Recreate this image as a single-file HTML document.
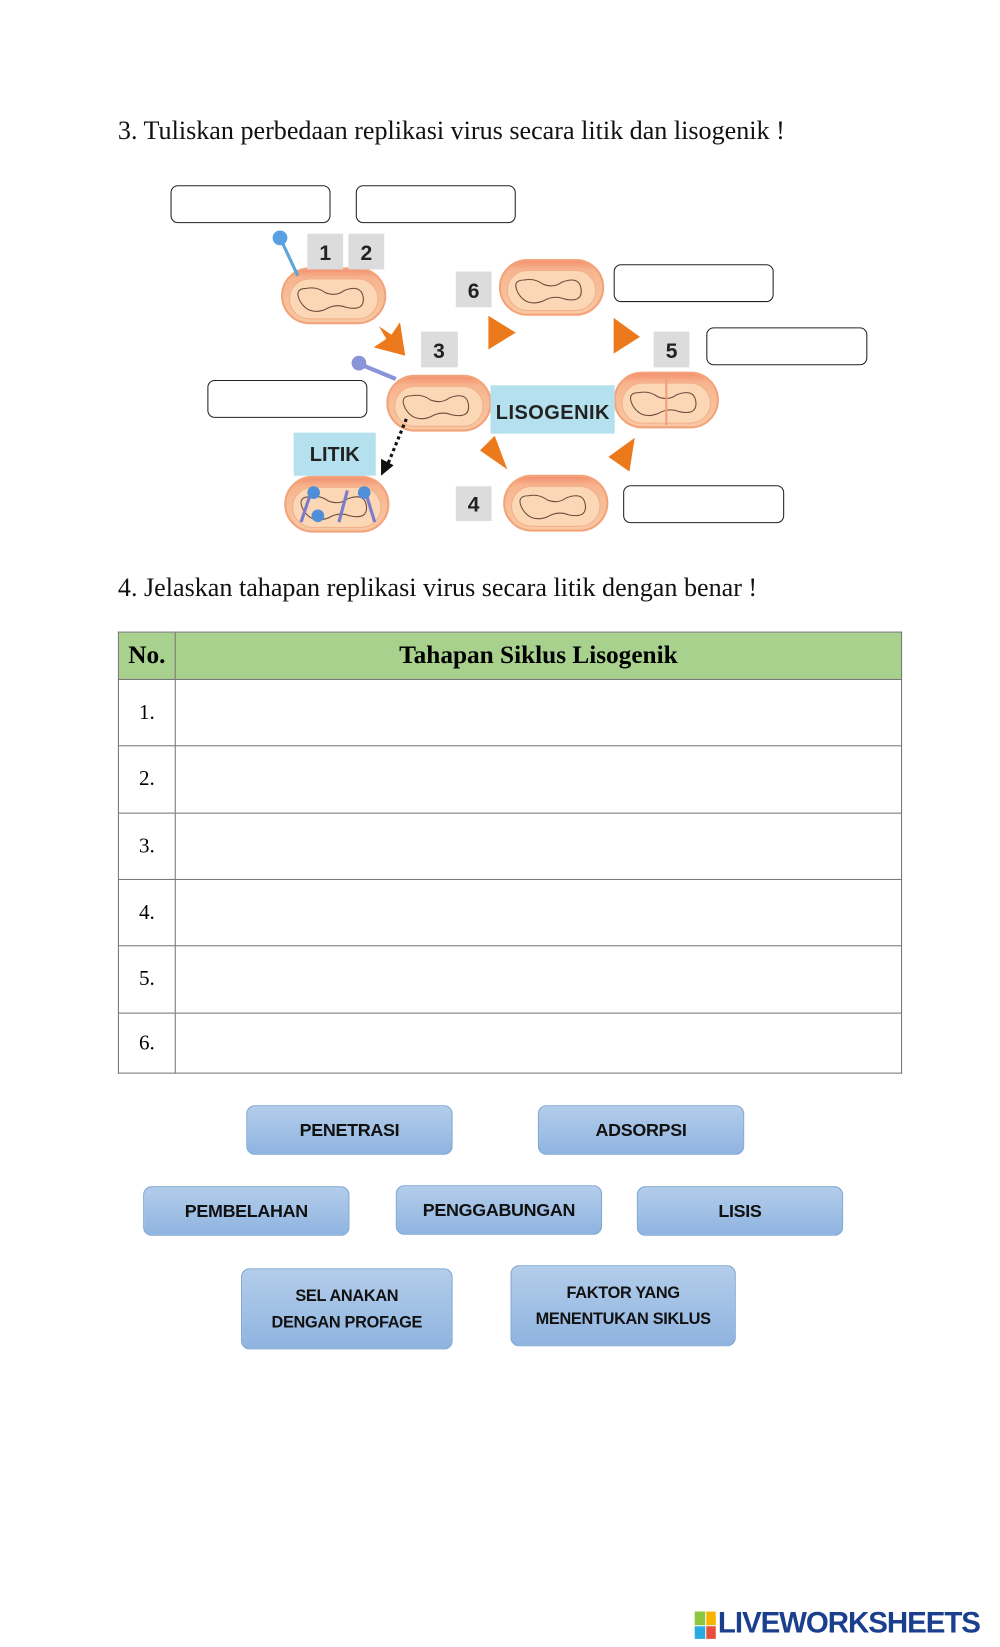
<!DOCTYPE html>
<html><head><meta charset="utf-8"><style>
html,body{margin:0;padding:0;background:#fff;}
body{width:1000px;height:1647px;overflow:hidden;position:relative;}
#w{position:absolute;left:0;top:0;width:950px;height:1565px;transform:scale(1.0526);transform-origin:0 0;}
.t{position:absolute;font-family:"Liberation Serif",serif;font-size:24.8px;color:#111;white-space:nowrap;}
.box{position:absolute;border:1.8px solid #222;border-radius:7px;background:#fff;box-sizing:border-box;}
.btn{position:absolute;box-sizing:border-box;border:1px solid #7fa6d3;border-radius:8px;background:linear-gradient(#b3cdea,#8fb4e0);font-family:"Liberation Sans",sans-serif;font-weight:bold;color:#111;display:flex;align-items:center;justify-content:center;text-align:center;font-size:17px;letter-spacing:-0.3px;line-height:25px;}
table{position:absolute;left:112px;top:600px;width:745px;border-collapse:collapse;font-family:"Liberation Serif",serif;}
td{border:1px solid #777;padding:0;}
</style></head><body><div id="w">
<div class="t" style="left:112px;top:111px;">3. Tuliskan perbedaan replikasi virus secara litik dan lisogenik !</div>

<svg style="position:absolute;left:0;top:0" width="950" height="520">
<defs>
<linearGradient id="cg" x1="0" y1="0" x2="0" y2="1"><stop offset="0" stop-color="#f28f6e"/><stop offset="0.18" stop-color="#f7b48e"/><stop offset="1" stop-color="#f9c9a3"/></linearGradient>
<g id="cell"><rect x="-49" y="-26" width="98" height="52" rx="26" fill="url(#cg)" stroke="#f3a37a" stroke-width="2"/><rect x="-42" y="-16" width="84" height="38" rx="19" fill="#fbd7b6" stroke="#f1b08a" stroke-width="1"/><path d="M-32 5 q-6 -12 6 -12 q10 -2 18 4 q10 4 18 -2 q16 -6 18 6 q2 14 -16 10 q-10 -4 -20 2 q-16 6 -24 -8" fill="none" stroke="#6a4a3a" stroke-width="1"/></g>
</defs>
<use href="#cell" x="317" y="281"/>
<use href="#cell" x="524" y="273"/>
<use href="#cell" x="417" y="383"/>
<use href="#cell" x="633" y="380"/>
<use href="#cell" x="528" y="478"/>
<use href="#cell" x="320" y="479"/>
<line x1="633" y1="356" x2="633" y2="404" stroke="#f1a07a" stroke-width="2"/>
<line x1="267" y1="228" x2="283" y2="262" stroke="#5aa7d8" stroke-width="3"/><circle cx="266" cy="226" r="7" fill="#5a9fe0"/>
<line x1="342" y1="346" x2="376" y2="360" stroke="#8a94d8" stroke-width="4"/><circle cx="341" cy="345" r="7" fill="#8a94d8"/>
<g stroke="#7c7ccc" stroke-width="3"><line x1="296" y1="466" x2="286" y2="496"/><line x1="330" y1="466" x2="322" y2="496"/><line x1="348" y1="470" x2="356" y2="496"/></g>
<g fill="#4f8fd8"><circle cx="298" cy="468" r="6"/><circle cx="346" cy="468" r="6"/><circle cx="302" cy="490" r="6"/></g>
<g fill="#dcdcdc"><rect x="292" y="222" width="34" height="34"/><rect x="331" y="222" width="34" height="34"/><rect x="433" y="258" width="34" height="34"/><rect x="400" y="315" width="35" height="34"/><rect x="621" y="315" width="34" height="34"/><rect x="433" y="462" width="34" height="33"/></g>
<g font-family="Liberation Sans,sans-serif" font-weight="bold" font-size="20" fill="#222" text-anchor="middle">
<text x="309" y="247">1</text><text x="348" y="247">2</text><text x="450" y="283">6</text><text x="417" y="340">3</text><text x="638" y="340">5</text><text x="450" y="486">4</text></g>
<rect x="466" y="366" width="118" height="46" fill="#b5e1ef"/>
<rect x="279" y="411" width="78" height="41" fill="#b5e1ef"/>
<g font-family="Liberation Sans,sans-serif" font-weight="bold" font-size="19" fill="#222" text-anchor="middle"><text x="525" y="398" textLength="108">LISOGENIK</text><text x="318" y="438">LITIK</text></g>
<g fill="#ec7a1c">
<polygon points="360,310 372,318 380,306 385,338 355,330 367,322"/>
<polygon points="464,300 490,316 464,332"/>
<polygon points="583,302 608,320 583,336"/>
<polygon points="482,446 456,428 470,414"/>
<polygon points="603,416 598,448 578,434"/>
</g>
<line x1="386" y1="398" x2="368" y2="442" stroke="#111" stroke-width="3" stroke-dasharray="3,3"/>
<polygon points="362,452 362,436 374,442" fill="#111"/>
</svg>
<div class="box" style="left:162px;top:176px;width:152px;height:36px;"></div>
<div class="box" style="left:338px;top:176px;width:152px;height:36px;"></div>
<div class="box" style="left:583px;top:251px;width:152px;height:36px;"></div>
<div class="box" style="left:671px;top:311px;width:153px;height:36px;"></div>
<div class="box" style="left:197px;top:361px;width:152px;height:36px;"></div>
<div class="box" style="left:592px;top:461px;width:153px;height:36px;"></div>

<div class="t" style="left:112px;top:545px;">4. Jelaskan tahapan replikasi virus secara litik dengan benar !</div>
<table>
<tr style="height:45px;background:#a8d18d;font-weight:bold;font-size:24px;"><td style="width:53px;text-align:center;">No.</td><td style="text-align:center;">Tahapan Siklus Lisogenik</td></tr>
<tr style="height:63px"><td style="text-align:center;font-size:20px;">1.</td><td></td></tr>
<tr style="height:64px"><td style="text-align:center;font-size:20px;">2.</td><td></td></tr>
<tr style="height:63px"><td style="text-align:center;font-size:20px;">3.</td><td></td></tr>
<tr style="height:63px"><td style="text-align:center;font-size:20px;">4.</td><td></td></tr>
<tr style="height:64px"><td style="text-align:center;font-size:20px;">5.</td><td></td></tr>
<tr style="height:57px"><td style="text-align:center;font-size:20px;">6.</td><td></td></tr>
</table>

<div class="btn" style="left:234px;top:1050px;width:196px;height:47px;">PENETRASI</div>
<div class="btn" style="left:511px;top:1050px;width:196px;height:47px;">ADSORPSI</div>
<div class="btn" style="left:136px;top:1127px;width:196px;height:47px;">PEMBELAHAN</div>
<div class="btn" style="left:376px;top:1126px;width:196px;height:47px;">PENGGABUNGAN</div>
<div class="btn" style="left:605px;top:1127px;width:196px;height:47px;">LISIS</div>
<div class="btn" style="left:229px;top:1205px;width:201px;height:77px;font-size:15.5px;">SEL ANAKAN<br>DENGAN PROFAGE</div>
<div class="btn" style="left:485px;top:1202px;width:214px;height:77px;font-size:15.5px;">FAKTOR YANG<br>MENENTUKAN SIKLUS</div>

<div style="position:absolute;left:660px;top:1531px;width:20px;height:26px;display:grid;grid-template-columns:1fr 1fr;gap:1px;">
<div style="background:#8cc63f"></div><div style="background:#f7b500"></div><div style="background:#29abe2"></div><div style="background:#e94e3c"></div></div>
<div style="position:absolute;left:682px;top:1526px;font-family:'Liberation Sans',sans-serif;font-weight:bold;font-size:28px;color:#1b3f8f;letter-spacing:-1px;">LIVEWORKSHEETS</div>
</div></body></html>
